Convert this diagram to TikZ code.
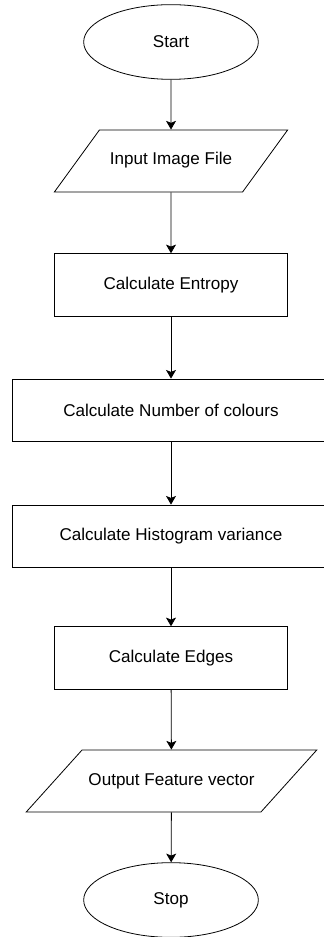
\documentclass[tikz,border=0pt]{standalone}
\usepackage{fontspec}
\setmainfont{Liberation Sans}
\usetikzlibrary{shapes.geometric,arrows.meta}

\begin{document}
\begin{tikzpicture}[x=0.75pt,y=-0.75pt,
	font=\fontsize{12.8}{15}\selectfont,
	line width=0.6pt,
	terminal/.style={shape=ellipse,draw=black,inner sep=0pt,minimum width=131pt,minimum height=56pt},
	process/.style={shape=rectangle,draw=black,minimum width=175pt,minimum height=47pt},
	wideprocess/.style={shape=rectangle,draw=black,minimum width=238.5pt,minimum height=46.5pt},
	io/.style={shape=trapezium,draw=black,trapezium stretches body=true,text height=9pt,text depth=3pt,inner xsep=0pt,inner ysep=17.3pt},
	flow/.style={-{Stealth[width=7.5pt,length=6.5pt,inset=1.5pt]}}]
	
	\useasboundingbox (0,0) rectangle (324,937);
	\clip (0,0) rectangle (324,937);
	
	\node[terminal] (start) at (171, 42)     {Start};
	\node[io,trapezium left angle=54,trapezium right angle=126,minimum width=175pt] (input) at (171, 161)     {Input Image File};
	\node[process] (entropy) at (171, 285)     {Calculate Entropy};
	\node[wideprocess] (colours) at (171, 410)     {Calculate Number of colours};
	\node[wideprocess] (histvar) at (171, 536)     {Calculate Histogram variance};
	\node[process] (edges) at (171, 658)     {Calculate Edges};
	\node[io,trapezium left angle=48,trapezium right angle=132,minimum width=218pt] (output) at (171.5, 781)     {Output Feature vector};
	\node[terminal] (stop) at (171, 900)     {Stop};
	
	\path[flow] (start) edge (input);
	\path[flow] (input) edge (entropy);
	\path[flow] (entropy) edge (colours);
	\path[flow] (colours) edge (histvar);
	\path[flow] (histvar) edge (edges);
	\path[flow] (edges) edge (output);
	\path[flow] (output) edge (stop);
	\end{tikzpicture}
\end{document}
